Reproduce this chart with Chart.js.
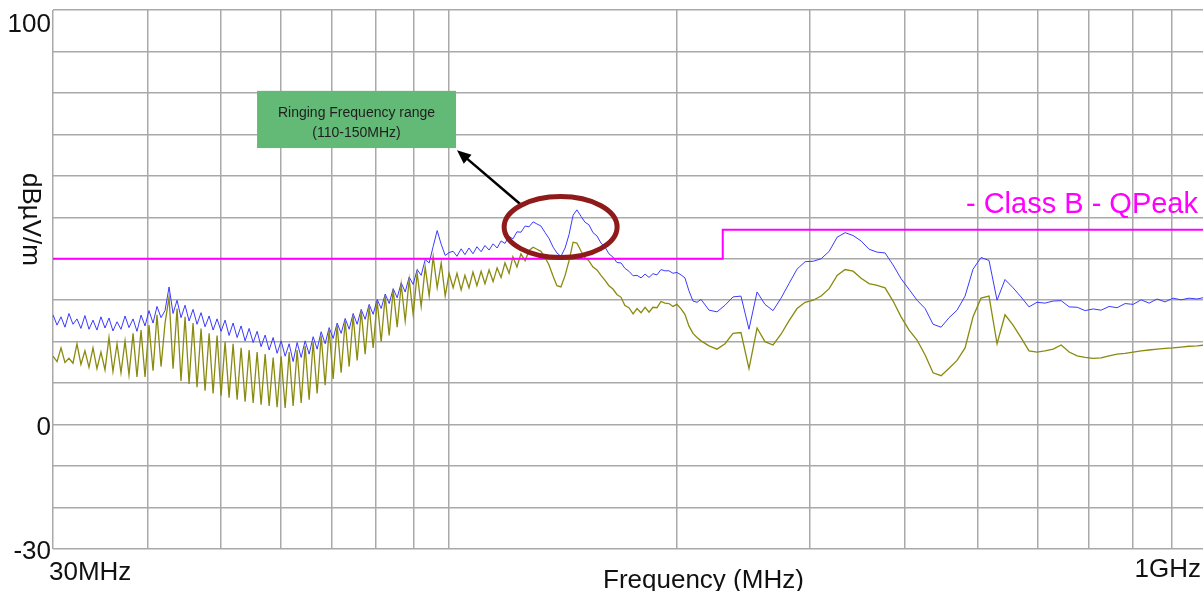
<!DOCTYPE html>
<html>
<head>
<meta charset="utf-8">
<title>Radiated emission scan</title>
<script src="https://cdn.jsdelivr.net/npm/chart.js@4.4.1/dist/chart.umd.min.js"></script>
<style>
  html, body { margin: 0; padding: 0; background: #fff; overflow: hidden; }
  #wrap { width: 1203px; height: 591px; overflow: hidden; }
  canvas { display: block; }
</style>
</head>
<body>
<div id="wrap"><canvas id="emi" width="1215" height="591"></canvas></div>
<script>
// Scan frequencies (MHz), shared by both traces
const freqMHz = [
  30.00, 30.37, 30.74, 31.11, 31.49, 31.88, 32.27, 32.66, 33.06, 33.47,
  33.88, 34.29, 34.71, 35.14, 35.57, 36.00, 36.45, 36.89, 37.35, 37.80,
  38.27, 38.73, 39.21, 39.69, 40.17, 40.67, 41.16, 41.67, 42.18, 42.70,
  43.22, 43.75, 44.28, 44.83, 45.38, 45.93, 46.49, 47.06, 47.64, 48.23,
  48.82, 49.41, 50.02, 50.63, 51.25, 51.88, 52.52, 53.16, 53.81, 54.47,
  55.14, 55.81, 56.49, 57.19, 57.89, 58.60, 59.31, 60.04, 60.78, 61.52,
  62.27, 63.03, 63.81, 64.59, 65.38, 66.18, 66.99, 67.81, 68.64, 69.48,
  70.33, 71.19, 72.06, 72.95, 73.84, 74.74, 75.66, 76.59, 77.52, 78.47,
  79.43, 80.41, 81.39, 82.39, 83.40, 84.42, 85.45, 86.50, 87.56, 88.63,
  89.71, 90.81, 91.92, 93.05, 94.19, 95.34, 96.51, 97.69, 98.89, 100.06,
  101.3, 102.5, 103.8, 105.0, 106.3, 107.6, 108.9, 110.3, 111.6, 113.0,
  114.4, 115.8, 117.2, 118.6, 120.1, 121.5, 123.0, 124.5, 126.1, 127.6,
  129.2, 130.7, 132.3, 134.0, 135.6, 137.3, 138.9, 140.6, 142.4, 144.1,
  145.9, 147.6, 149.5, 151.3, 153.1, 155.0, 156.9, 158.8, 160.8, 162.7,
  164.7, 166.7, 168.8, 170.8, 172.9, 175.1, 177.2, 179.4, 181.6, 183.8,
  186.0, 188.3, 190.6, 192.9, 195.3, 197.7, 200.1, 202.6, 205.0, 207.5,
  210.1, 212.7, 215.3,
  220.6, 226.0, 231.6, 237.3, 243.1, 249.1, 255.3, 261.5, 268.0, 274.6,
  281.3, 288.3, 295.5, 302.8, 310.2, 317.9, 325.7, 333.7, 341.9, 350.3,
  358.9, 367.8, 376.8, 386.1, 395.6, 405.4, 415.3, 425.6, 436.0, 446.8,
  457.8, 469.0, 480.6, 492.4, 504.5, 516.9, 529.7, 542.7, 556.1, 569.7,
  583.7, 598.1, 612.8, 628.2, 643.7, 659.6, 675.8, 692.4, 709.4, 726.9,
  744.8, 763.1, 781.9, 801.2, 820.9, 841.1, 861.8, 883.0, 904.7, 926.9,
  949.8, 973.1, 997.1, 1000
];

// Peak detector trace (blue), dBuV/m
const peakDb = [
  26.5, 24, 26, 23.5, 26.8, 24.2, 25.5, 23.2, 26.3, 23,
  25.2, 22.8, 26, 23.3, 25.7, 22.6, 24.8, 23, 26.2, 23.4,
  25.5, 22.5, 26.4, 23.8, 27.5, 24.5, 28.5, 25.8, 27.5, 33.2,
  26.8, 30, 25.8, 28.8, 25, 27.8, 24.2, 27, 23.6, 26.2,
  22.8, 25.5, 22.5, 25.2, 21.5, 24.5, 21, 23.8, 20.2, 23.2,
  19.8, 22.5, 18.8, 21.6, 18, 21, 17.2, 20.2, 16.5, 19.5,
  15.2, 19.8, 16.2, 20.2, 17, 21.2, 18.2, 22.4, 19.5, 23.4,
  20.8, 24.5, 22, 25.6, 23, 26.8, 24.2, 27.8, 25.4, 29,
  26.6, 30.2, 28, 31.5, 29.2, 32.8, 30.6, 34.2, 32, 35.6,
  33.8, 37.4, 36, 39.8, 39, 43, 46.8, 43.5, 40.8, 41.5,
  41.8, 40.6, 42.4, 41, 42.6, 41.2, 42.9, 41.7, 43.2, 42.1,
  43.6, 42.6, 44.3, 43.7, 45.4, 44.8, 46.5, 46.4, 47.9, 47.7,
  48.9, 48.4, 47.9, 46.3, 44.9, 42.8, 41.4, 40.6, 42.6, 45.8,
  50.5, 51.8, 50.2, 48.8, 48.2, 46.3, 45.5, 43.8, 42.8, 41.2,
  40.4, 39.1, 39, 37.7, 37, 35.9, 36, 35.4, 36.3, 35.5,
  36.4, 36.1, 37.4, 37.1, 37.1, 36.5, 36.7, 36.1, 35.4, 32.3,
  29.8, 29.5, 30.2,
  27.6, 27.2, 28.8, 30.8, 31, 23, 32, 29, 27.5, 30.5,
  34, 37.5, 39.3, 39.4, 40, 41.8, 45.2, 46.3, 45.6, 44.3,
  42.3, 41.6, 41.4, 38.5, 35.2, 32.6, 30, 28, 24.2, 23.5,
  25.8, 27.6, 31, 37.5, 40.3, 39.6, 30, 35, 33, 30.8,
  28.4, 29.5, 29.3, 29.8, 29.9, 28.4, 28.3, 27.5, 27.9, 27.6,
  28.5, 28.2, 29.2, 29, 30.1, 29.3, 30.3, 29.6, 30.5, 30.1,
  30.5, 30.3, 30.7, 30.6
];

// Average detector trace (olive), dBuV/m
const avgDb = [
  16.5, 15.2, 18.5, 15, 16, 14.8, 19.5, 14.5, 17.8, 13.8,
  18.5, 13.5, 17.5, 13.2, 21, 12.8, 19.5, 12.5, 20.2, 12,
  22, 11.5, 22.8, 11.5, 24, 13, 26.5, 14, 24.5, 30.8,
  13.5, 28, 10.5, 26, 9.8, 24.5, 9, 23.2, 8.2, 22,
  7.5, 21.5, 7, 20, 6.5, 19.5, 6, 18.5, 5.5, 18,
  5.2, 17.5, 4.8, 17, 4.5, 16.2, 4.2, 16.5, 4, 17.5,
  4.5, 18, 5.2, 19, 6, 20, 7.5, 21.5, 9.5, 23,
  11, 24, 12.5, 25, 14, 26.2, 15.5, 27.5, 17, 28.5,
  18.5, 29.8, 20, 31, 21.5, 32.5, 23.5, 33.8, 25, 35,
  26.5, 36.5, 28.5, 38, 31, 40.5, 33, 39, 31, 36.5,
  33, 36.5, 32.5, 36, 33, 36.8, 33.5, 37, 34, 37.3,
  34.5, 37.8, 35.5, 39, 36.5, 40.5, 38, 41.2, 39.5, 42,
  42.8, 42.3, 41.8, 40.3, 38.5, 35.8, 33.5, 33.2, 36, 39.5,
  44, 43.8, 41.8, 40.2, 39.5, 38, 37.3, 36, 34.8, 33.5,
  32.7, 31.4, 30.7, 28.7, 28.2, 26.7, 28, 27, 28.3, 27.1,
  28.3, 28.2, 29.7, 29.3, 29.2, 28.5, 29, 27.9, 26.6, 23.8,
  22, 21, 20.2,
  19, 18.2, 19.5, 22, 22.2, 13.5, 23.3, 20, 19.2, 21.8,
  25, 28, 29.5, 30, 31, 32.8, 36, 37.4, 37, 35.3,
  34, 33.6, 33, 29.8, 26, 22.8, 20.4, 16.8, 12.5, 11.8,
  13.6, 15.5, 18.5, 26, 30.5, 31, 19.5, 26.5, 24, 21,
  17.8, 17.5, 17.8, 18.2, 19.2, 17.5, 16.6, 16.2, 16, 16.1,
  16.6, 17, 17.2, 17.5, 17.8, 18, 18.2, 18.4, 18.5, 18.7,
  18.9, 19, 19.2, 19.2
];

// EN 55032 Class B quasi-peak limit (step at 230 MHz)
const limitMHz = [30, 230, 230, 1000];
const limitDb = [40, 40, 47, 47];

// grid positions
const gridMHz = [30, 40, 50, 60, 70, 80, 90, 100, 200, 300, 400, 500, 600, 700, 800, 900, 1000];
const gridDb = [-30, -20, -10, 0, 10, 20, 30, 40, 50, 60, 70, 80, 90, 100];
const yTickLabels = [{ v: 100, text: '100' }, { v: 0, text: '0' }, { v: -30, text: '-30' }];

// annotation anchors, in data units
const noteBox = { fromMHz: 55.8, toMHz: 102.2, topDb: 80.5, bottomDb: 66.7 };
const ringRange = { fromMHz: 118.3, toMHz: 166.8, lowDb: 40.3, highDb: 55.0 };
const arrowTail = { mhz: 124.2, db: 53.2 };
const arrowHead = { mhz: 102.5, db: 66.2 };

const FONT = '"Liberation Sans", Arial, sans-serif';

function pts(xs, ys) { return xs.map((f, i) => ({ x: f, y: ys[i] })); }

const overlay = {
  id: 'overlay',
  afterDatasetsDraw(chart) {
    const { ctx, scales: { x, y } } = chart;
    ctx.save();

    // green note box
    const bx1 = x.getPixelForValue(noteBox.fromMHz), bx2 = x.getPixelForValue(noteBox.toMHz);
    const by1 = y.getPixelForValue(noteBox.topDb), by2 = y.getPixelForValue(noteBox.bottomDb);
    ctx.fillStyle = '#63ba77';
    ctx.fillRect(bx1, by1, bx2 - bx1, by2 - by1);
    ctx.fillStyle = '#1e1e1e';
    ctx.font = '14px ' + FONT;
    ctx.textAlign = 'center';
    ctx.textBaseline = 'alphabetic';
    ctx.fillText('Ringing Frequency range', (bx1 + bx2) / 2, by1 + 26);
    ctx.fillText('(110-150MHz)', (bx1 + bx2) / 2, by1 + 46);

    // arrow
    const ax1 = x.getPixelForValue(arrowTail.mhz), ay1 = y.getPixelForValue(arrowTail.db);
    const ax2 = x.getPixelForValue(arrowHead.mhz), ay2 = y.getPixelForValue(arrowHead.db);
    const ang = Math.atan2(ay2 - ay1, ax2 - ax1);
    const headLen = 14, headW = 6;
    ctx.strokeStyle = '#000';
    ctx.lineWidth = 2.5;
    ctx.beginPath();
    ctx.moveTo(ax1, ay1);
    ctx.lineTo(ax2 - Math.cos(ang) * headLen * 0.8, ay2 - Math.sin(ang) * headLen * 0.8);
    ctx.stroke();
    ctx.fillStyle = '#000';
    ctx.beginPath();
    ctx.moveTo(ax2, ay2);
    ctx.lineTo(ax2 - Math.cos(ang) * headLen - Math.sin(ang) * headW, ay2 - Math.sin(ang) * headLen + Math.cos(ang) * headW);
    ctx.lineTo(ax2 - Math.cos(ang) * headLen + Math.sin(ang) * headW, ay2 - Math.sin(ang) * headLen - Math.cos(ang) * headW);
    ctx.closePath();
    ctx.fill();

    // ellipse round the ringing range
    const ex1 = x.getPixelForValue(ringRange.fromMHz), ex2 = x.getPixelForValue(ringRange.toMHz);
    const ey1 = y.getPixelForValue(ringRange.highDb), ey2 = y.getPixelForValue(ringRange.lowDb);
    ctx.strokeStyle = '#8e1a1a';
    ctx.lineWidth = 5;
    ctx.beginPath();
    ctx.ellipse((ex1 + ex2) / 2, (ey1 + ey2) / 2, (ex2 - ex1) / 2, (ey2 - ey1) / 2, 0, 0, Math.PI * 2);
    ctx.stroke();

    // limit label
    ctx.fillStyle = '#ff00ff';
    ctx.font = '29px ' + FONT;
    ctx.textAlign = 'right';
    ctx.fillText('- Class B - QPeak', 1198, 213);
    ctx.restore();
  },
  afterDraw(chart) {
    const { ctx, chartArea: area, scales: { y } } = chart;
    ctx.save();
    ctx.fillStyle = '#111';
    ctx.font = '26px ' + FONT;
    ctx.textBaseline = 'alphabetic';

    // y tick labels (only the three that the plot prints)
    ctx.textAlign = 'right';
    yTickLabels.forEach(t => {
      let py = y.getPixelForValue(t.v) + 10;
      if (t.v === 100) py = area.top + 22;
      ctx.fillText(t.text, area.left - 2, py);
    });

    // x end labels
    ctx.textAlign = 'left';
    ctx.fillText('30MHz', area.left - 4, 580);
    ctx.textAlign = 'right';
    ctx.fillText('1GHz', 1201, 577);

    // axis titles
    ctx.textAlign = 'left';
    ctx.fillText('Frequency (MHz)', 603, 588);
    ctx.translate(23, 173);
    ctx.rotate(Math.PI / 2);
    ctx.fillText('dB\u00b5V/m', 0, 0);
    ctx.restore();
  }
};

const gridStyle = { color: '#a9a9a9', lineWidth: 1.5, drawTicks: false };

new Chart(document.getElementById('emi'), {
  type: 'line',
  data: {
    datasets: [
      { label: 'Class B - QPeak', data: pts(limitMHz, limitDb), borderColor: '#ff00ff', borderWidth: 2, pointRadius: 0, order: 0 },
      { label: 'Average', data: pts(freqMHz, avgDb), borderColor: '#8a8a10', borderWidth: 1.3, pointRadius: 0, order: 1 },
      { label: 'Peak', data: pts(freqMHz, peakDb), borderColor: '#3a3aff', borderWidth: 1, pointRadius: 0, order: 2 }
    ]
  },
  options: {
    responsive: false,
    animation: false,
    devicePixelRatio: 1,
    layout: { padding: { left: 0, top: 10, right: 9, bottom: 0 } },
    plugins: { legend: { display: false }, tooltip: { enabled: false } },
    elements: { line: { tension: 0 } },
    scales: {
      x: {
        type: 'logarithmic', min: 30, max: 1000,
        afterBuildTicks: s => { s.ticks = gridMHz.map(v => ({ value: v })); },
        afterFit: s => { s.height = 42; },
        ticks: { display: false },
        grid: gridStyle,
        border: { display: false }
      },
      y: {
        type: 'linear', min: -30, max: 100,
        afterBuildTicks: s => { s.ticks = gridDb.map(v => ({ value: v })); },
        afterFit: s => { s.width = 53; },
        ticks: { display: false },
        grid: gridStyle,
        border: { display: false }
      }
    }
  },
  plugins: [overlay]
});
</script>
</body>
</html>
